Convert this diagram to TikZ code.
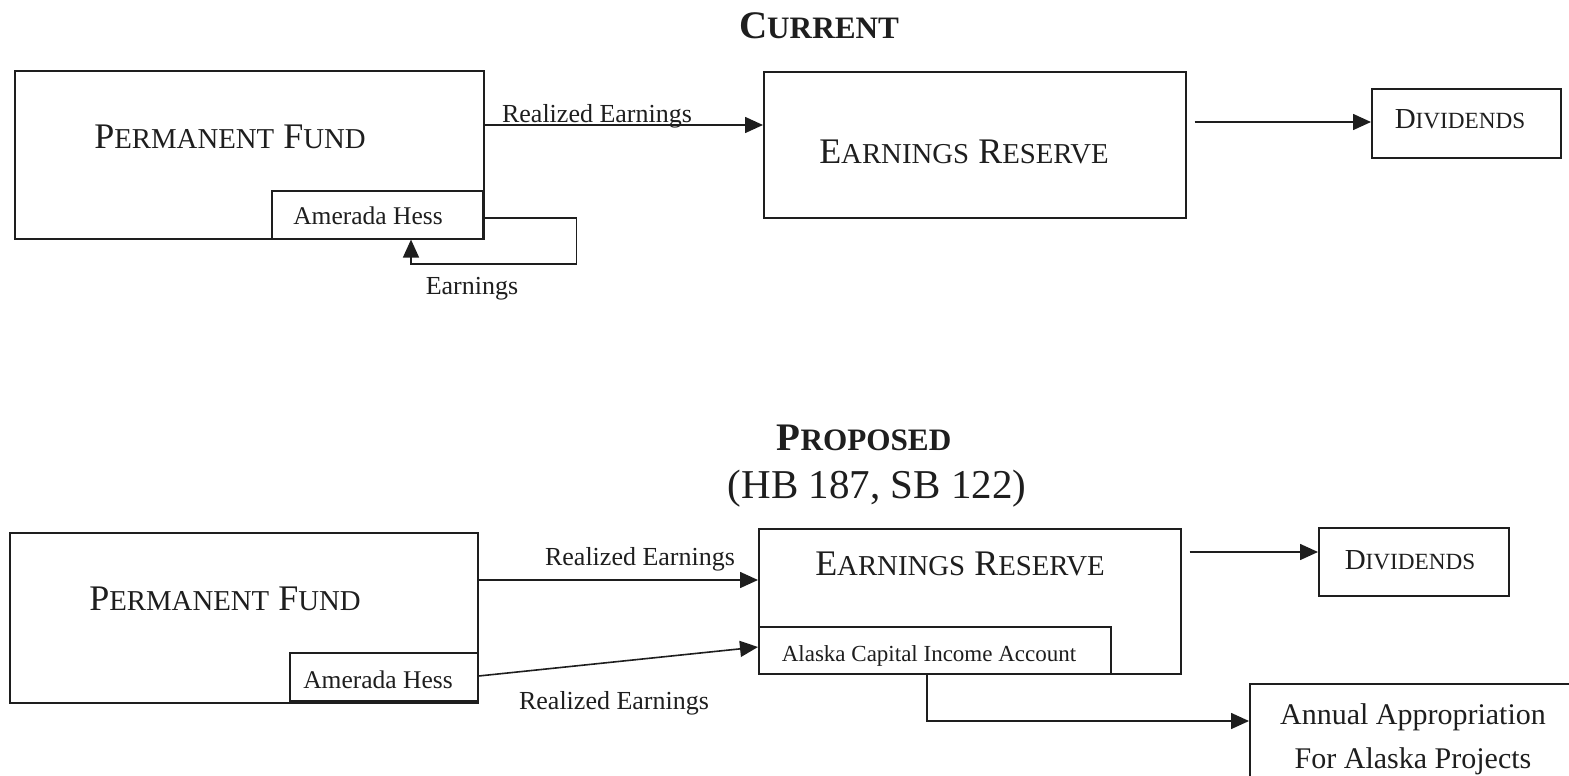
\documentclass[tikz,border=0pt]{standalone}
\usepackage{fontspec}
\setmainfont{Liberation Serif}
\usepackage{graphicx}
\usetikzlibrary{arrows.meta}
\newcommand\smc[1]{\scalebox{0.8}{#1}}
\definecolor{ink}{HTML}{1E1E1E}
\begin{document}
\begin{tikzpicture}[x=1pt,y=-1pt,
  box/.style={draw=ink, line width=1.6pt, inner sep=0pt, anchor=north west},
  lab/.style={inner sep=0pt, anchor=base, text=ink},
  big/.style={lab, font=\fontsize{36}{40}\selectfont},
  mid/.style={lab, font=\fontsize{29}{32}\selectfont},
  small/.style={lab, font=\fontsize{26}{28}\selectfont},
  ttl/.style={lab, font=\bfseries\fontsize{39}{42}\selectfont},
  arr/.style={draw=ink, line width=1.6pt, -{Triangle[length=18pt,width=16pt]}},
  ln/.style={draw=ink, line width=1.6pt}]
\useasboundingbox (0,0) rectangle (1569,776);
\clip (0,0) rectangle (1569,776);
\fill[white] (0,0) rectangle (1569,776);

% ---------------- CURRENT ----------------
\node[ttl] (t1) at (819,39) {C\smc{URRENT}};

\node[box, minimum width=469pt, minimum height=168pt] (pf1) at (14,70) {};
\node[box, minimum width=211pt, minimum height=48pt] (ah1) at (271,190) {};
\node[big] (pf1t) at (230,148) {P\smc{ERMANENT} F\smc{UND}};
\node[small, font=\fontsize{25.5}{28}\selectfont] (ah1t) at (368,224) {Amerada Hess};

\node[box, minimum width=422pt, minimum height=146pt] (er1) at (763,71) {};
\node[big] (er1t) at (964,163) {E\smc{ARNINGS} R\smc{ESERVE}};

\node[box, minimum width=189pt, minimum height=69pt] (dv1) at (1371,88) {};
\node[mid] (dv1t) at (1460,128) {D\smc{IVIDENDS}};

\draw[arr] ([yshift=-55pt]pf1.north east) -- ([yshift=-54pt]er1.north west);
\node[small] (re1) at (597,122) {Realized Earnings};

\draw[arr] ([xshift=8pt,yshift=-51pt]er1.north east) -- ([yshift=-34pt]dv1.north west);

\draw[arr] ([yshift=-28pt]ah1.north east) -| ++(93,46) -| ([xshift=140pt]ah1.south west);
\node[small] (ea1) at (472,294) {Earnings};

% ---------------- PROPOSED ----------------
\node[ttl] (t2) at (864,450) {P\smc{ROPOSED}};
\node[lab, font=\fontsize{41}{44}\selectfont] (t2b) at (877,498) {(HB 187, SB 122)};

\node[box, minimum width=468pt, minimum height=170pt] (pf2) at (9,532) {};
\node[box, minimum width=188pt, minimum height=48pt] (ah2) at (289,652) {};
\node[big] (pf2t) at (225,610) {P\smc{ERMANENT} F\smc{UND}};
\node[small, font=\fontsize{25.5}{28}\selectfont] (ah2t) at (378,688) {Amerada Hess};

\node[box, minimum width=422pt, minimum height=145pt] (er2) at (758,528) {};
\node[box, minimum width=352pt, minimum height=47pt] (acia) at (758,626) {};
\node[big] (er2t) at (960,575) {E\smc{ARNINGS} R\smc{ESERVE}};
\node[lab, font=\fontsize{23}{26}\selectfont] (aciat) at (929,661) {Alaska Capital Income Account};

\node[box, minimum width=190pt, minimum height=68pt] (dv2) at (1318,527) {};
\node[mid] (dv2t) at (1410,569) {D\smc{IVIDENDS}};

\node[box, minimum width=340pt, minimum height=120pt] (ap) at (1249,683) {};
\node[lab, font=\fontsize{30}{34}\selectfont] (ap1) at (1413,724) {Annual Appropriation};
\node[lab, font=\fontsize{30}{34}\selectfont] (ap2) at (1413,768) {For Alaska Projects};

\draw[arr] ([yshift=-48pt]pf2.north east) -- ([yshift=-52pt]er2.north west);
\node[small] (re2) at (640,565) {Realized Earnings};

\draw[arr] ([yshift=-24pt]ah2.north east) -- ([yshift=-21pt]acia.north west);
\node[small] (re3) at (614,709) {Realized Earnings};

\draw[arr] ([xshift=8pt,yshift=-24pt]er2.north east) -- ([yshift=-25pt]dv2.north west);

\draw[arr] ([xshift=169pt]acia.south west) |- ([yshift=-38pt]ap.north west);
\end{tikzpicture}
\end{document}
